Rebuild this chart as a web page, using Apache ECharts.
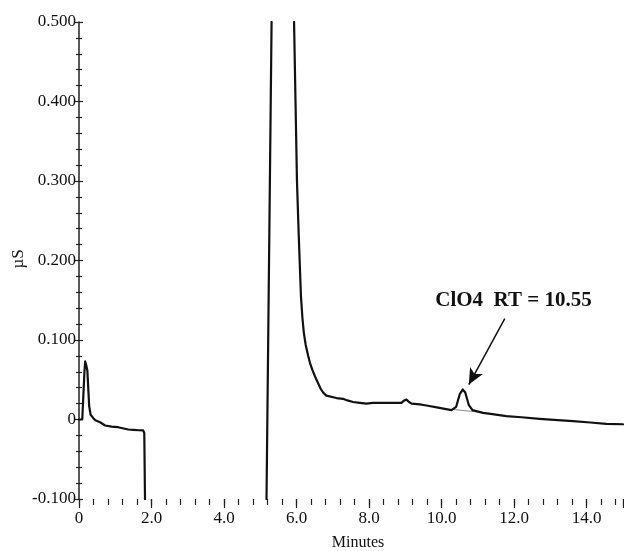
<!DOCTYPE html>
<html>
<head>
<meta charset="utf-8">
<script src="https://cdn.jsdelivr.net/npm/echarts@6/dist/echarts.min.js"></script>
<style>
  html, body { margin: 0; padding: 0; background: #ffffff; }
  #chart { width: 624px; height: 551px; }
</style>
</head>
<body>
<div id="chart"></div>
<script>
// ---- data ----
// early segment (injection / water dip), minutes and µS
const times1 = [0, 0.09, 0.12, 0.15, 0.17, 0.19, 0.21, 0.23, 0.26, 0.28, 0.32, 0.39, 0.45, 0.58, 0.72, 0.90, 1.08, 1.20, 1.36, 1.50, 1.65, 1.77, 1.80, 1.82];
const values1 = [0, 0, 0.030, 0.060, 0.073, 0.070, 0.071, 0.062, 0.035, 0.017, 0.006, 0.002, -0.001, -0.0034, -0.0075, -0.009, -0.0097, -0.011, -0.0126, -0.013, -0.0135, -0.0138, -0.017, -0.100];
// rising edge of the off-scale main peak
const times2 = [5.17, 5.31];
const values2 = [-0.100, 0.500];
// falling edge and baseline to the end
const times3 = [5.93, 5.97, 6.01, 6.06, 6.12, 6.16, 6.20, 6.25, 6.32, 6.37, 6.43, 6.50, 6.59, 6.66, 6.73, 6.82, 7.10, 7.28, 7.40, 7.56, 7.74, 7.93, 8.10, 8.25, 8.57, 8.89, 8.97, 9.03, 9.10, 9.17, 9.40, 9.58, 9.94, 10.27, 10.40, 10.50, 10.58, 10.65, 10.75, 10.85, 11.14, 11.40, 11.78, 12.20, 12.70, 13.10, 13.62, 14.10, 14.54, 15.00];
const values3 = [0.500, 0.400, 0.300, 0.230, 0.155, 0.128, 0.109, 0.094, 0.080, 0.071, 0.063, 0.055, 0.046, 0.039, 0.034, 0.030, 0.027, 0.026, 0.024, 0.022, 0.021, 0.020, 0.021, 0.021, 0.021, 0.021, 0.024, 0.025, 0.022, 0.020, 0.019, 0.0176, 0.0147, 0.0117, 0.016, 0.032, 0.0377, 0.034, 0.018, 0.0118, 0.0084, 0.0068, 0.0042, 0.0028, 0.0008, -0.0005, -0.002, -0.0038, -0.0054, -0.006];
// integration baseline under the perchlorate peak
const baseTimes = [10.31, 11.05];
const baseValues = [0.0126, 0.0092];
// annotation
const annotText = 'ClO4  RT = 10.55';
const annotPos = [11.98, 0.150];
const arrowFrom = [11.74, 0.127];
const arrowTo = [10.75, 0.044];
// axis labels
const xName = 'Minutes';
const yName = 'µS';

function pairs(t, v) { return t.map((x, i) => [x, v[i]]); }

const FONT = '"Liberation Serif", "DejaVu Serif", serif';
const INK = '#111111';

const traceStyle = { color: INK, width: 2.2, join: 'round', cap: 'round' };
function traceSeries(data, extra) {
  return Object.assign({
    type: 'line',
    data: data,
    showSymbol: false,
    symbol: 'none',
    clip: true,
    silent: true,
    animation: false,
    lineStyle: traceStyle,
    z: 3
  }, extra || {});
}

const yFmt = v => (Math.abs(v) < 1e-9 ? '0' : v.toFixed(3));
const xFmt = v => {
  if (Math.abs(v) < 1e-9) return '0';
  if (v > 14.5) return '';
  return v.toFixed(1);
};

const chart = echarts.init(document.getElementById('chart'), null, { renderer: 'canvas' });

const option = {
  backgroundColor: '#ffffff',
  animation: false,
  grid: { left: 79, right: 1, top: 22, bottom: 52, outerBoundsMode: 'none' },
  xAxis: [
    {
      type: 'value', min: 0, max: 15, interval: 2, position: 'bottom', offset: 0,
      axisLine: { show: false, onZero: false },
      axisTick: { show: true, length: 9, lineStyle: { color: '#222', width: 1.2 } },
      axisLabel: { show: true, formatter: xFmt, fontFamily: FONT, fontSize: 17, color: INK, margin: 11 },
      splitLine: { show: false }
    },
    {
      type: 'value', min: 0, max: 15, interval: 0.4, position: 'bottom', offset: 0,
      axisLine: { show: false, onZero: false },
      axisTick: { show: true, length: 6, lineStyle: { color: '#222', width: 1.2 } },
      axisLabel: { show: false },
      splitLine: { show: false }
    }
  ],
  yAxis: [
    {
      type: 'value', min: -0.1, max: 0.5, interval: 0.1, position: 'left', offset: 0,
      axisLine: { show: true, onZero: false, lineStyle: { color: '#222', width: 1.5 } },
      axisTick: { show: true, length: 4, lineStyle: { color: '#222', width: 1.2 } },
      minorTick: { show: true, splitNumber: 5, length: 3, lineStyle: { color: '#222', width: 1.2 } },
      axisLabel: { show: true, formatter: yFmt, fontFamily: FONT, fontSize: 17, color: INK, margin: 3 },
      splitLine: { show: false },
      minorSplitLine: { show: false }
    },
    {
      type: 'value', min: -0.1, max: 0.5, interval: 0.1, position: 'left', offset: 0,
      axisLine: { show: false, onZero: false },
      axisTick: { show: true, inside: true, length: 4, lineStyle: { color: '#222', width: 1.2 } },
      minorTick: { show: true, splitNumber: 5, length: 3, lineStyle: { color: '#222', width: 1.2 } },
      axisLabel: { show: false },
      splitLine: { show: false },
      minorSplitLine: { show: false }
    }
  ],
  graphic: [
    {
      type: 'text', x: 358, y: 543,
      style: { text: xName, fontFamily: FONT, fontSize: 16, fill: INK, align: 'center', verticalAlign: 'middle' }
    },
    {
      type: 'text', x: 19, y: 259, rotation: Math.PI / 2,
      style: { text: yName, fontFamily: FONT, fontSize: 17, fill: INK, align: 'center', verticalAlign: 'middle' }
    }
  ],
  series: [
    {
      type: 'line',
      data: pairs(baseTimes, baseValues),
      showSymbol: false, symbol: 'none', silent: true, animation: false,
      lineStyle: { color: '#8a8a8a', width: 1 },
      z: 2
    },
    traceSeries(pairs(times1, values1)),
    traceSeries(pairs(times2, values2)),
    traceSeries(pairs(times3, values3), {
      markLine: {
        silent: true,
        animation: false,
        symbol: ['none', 'arrow'],
        symbolSize: [11, 16],
        label: { show: false },
        lineStyle: { color: INK, width: 1.5, type: 'solid' },
        data: [[{ coord: arrowFrom }, { coord: arrowTo }]]
      },
      markPoint: {
        silent: true,
        animation: false,
        symbol: 'circle',
        symbolSize: 1,
        itemStyle: { color: 'rgba(0,0,0,0)' },
        label: {
          show: true, position: 'inside', formatter: annotText,
          fontFamily: FONT, fontSize: 21, fontWeight: 'bold', color: INK
        },
        data: [{ coord: annotPos }]
      }
    })
  ]
};

chart.setOption(option);
</script>
</body>
</html>
